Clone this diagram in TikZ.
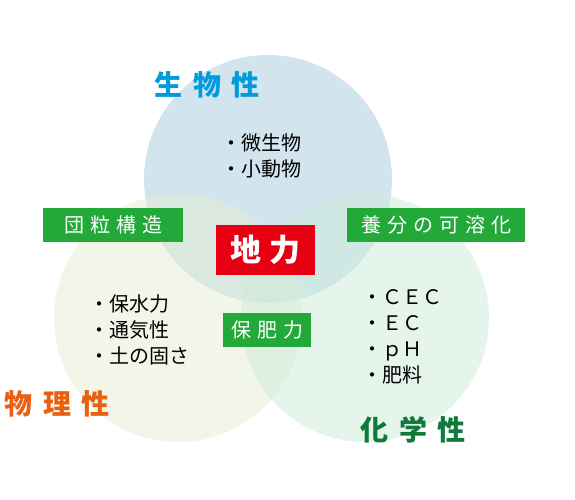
\documentclass[tikz,border=0pt]{standalone}
\usepackage{fontspec}
\setmainfont{Noto Sans CJK JP}
\usetikzlibrary{positioning}
\definecolor{biofill}{RGB}{165,203,221}
\definecolor{phyfill}{RGB}{229,237,209}
\definecolor{chemfill}{RGB}{205,235,217}
\definecolor{biotext}{RGB}{0,155,220}
\definecolor{phytext}{RGB}{232,96,16}
\definecolor{chemtext}{RGB}{16,122,58}
\definecolor{tagcolor}{RGB}{35,168,58}
\definecolor{corecolor}{RGB}{230,0,18}
\newcommand{\lsp}[1][0.3em]{\hspace{#1}}
\tikzset{
  field/.style={circle, minimum size=248pt, inner sep=0pt, fill opacity=0.5},
  fieldlabel/.style={font=\fontsize{28pt}{28pt}\selectfont\bfseries, inner sep=0pt},
  tag/.style={rectangle, fill=tagcolor, text=white, minimum height=34pt, inner sep=0pt, font=\fontsize{20pt}{20pt}\selectfont},
  core/.style={rectangle, fill=corecolor, text=white, minimum width=99pt, minimum height=50pt, inner sep=0pt, font=\fontsize{31pt}{31pt}\selectfont\bfseries},
  itemlist/.style={align=left, anchor=west, inner sep=0pt, font=\fontsize{20pt}{26pt}\selectfont}
}
\begin{document}
\begin{tikzpicture}[x=1pt, y=-1pt]
  \useasboundingbox (0,0) rectangle (575,500);

  % three overlapping fields
  \node[field, fill=biofill]  (bio)  at (268,179) {};
  \node[field, fill=phyfill]  (phy)  at (178,318) {};
  \node[field, fill=chemfill] (chem) at (365,318) {};

  \node[fieldlabel, text=biotext]  (biolabel)  at (207,85)  {生\lsp[0.36em]物\lsp[0.36em]性};
  \node[fieldlabel, text=phytext]  (phylabel)  at (57,404)  {物\lsp[0.36em]理\lsp[0.36em]性};
  \node[fieldlabel, text=chemtext] (chemlabel) at (413,430) {化\lsp[0.36em]学\lsp[0.36em]性};

  % items
  \node[itemlist] (bioitems)  at (221,156) {・微生物\\・小動物};
  \node[itemlist] (phyitems)  at (89,330)  {・保水力\\・通気性\\・土の固さ};
  \node[itemlist] (chemitems) at (362,337) {・ＣＥＣ\\・ＥＣ\\・ｐＨ\\・肥料};

  % tags
  \node[tag, minimum width=140pt] (crumb)  at (113,225) {団\lsp 粒\lsp 構\lsp 造};
  \node[tag, minimum width=178pt] (solub)  at (436,225) {養\lsp 分\lsp の\lsp 可\lsp 溶\lsp 化};
  \node[tag, minimum width=88pt]  (retain) at (267,330) {保\lsp 肥\lsp 力};

  \node[core] (soil) at (265.5,250) {地\lsp[0.23em]力};
\end{tikzpicture}
\end{document}
